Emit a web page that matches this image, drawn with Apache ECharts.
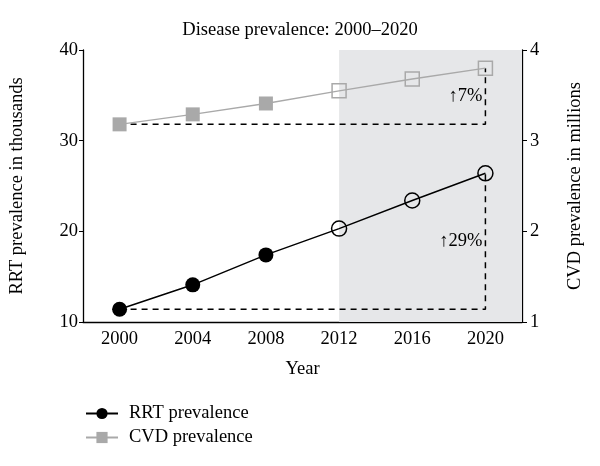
<!DOCTYPE html>
<html>
<head>
<meta charset="utf-8">
<script src="https://cdn.jsdelivr.net/npm/echarts@6/dist/echarts.min.js"></script>
<style>html,body{margin:0;padding:0;background:#fff}#c{width:600px;height:466px}</style>
</head>
<body>
<div id="c"></div>
<script>
const years = [2000, 2004, 2008, 2012, 2016, 2020];
const rrt = [11.4, 14.1, 17.4, 20.3, 23.4, 26.4];
const cvd = [3.18, 3.29, 3.41, 3.55, 3.68, 3.80];
const projectedFrom = 2012;
const xTickLabels = [2000, 2004, 2008, 2012, 2016, 2020];
const rrtLabel = '\u219129%';
const cvdLabel = '\u21917%';

const FONT = 'Liberation Serif';
const FS = 18.5;
const GRAY = '#a9a9a9';
const n = years.length - 1;

function pts(vals, filledColor, strokeColor) {
  return years.map((y, i) => ({
    value: [y, vals[i]],
    itemStyle: y >= projectedFrom
      ? { color: 'rgba(0,0,0,0)', borderColor: strokeColor, borderWidth: 1.5 }
      : { color: filledColor, borderColor: filledColor, borderWidth: 0 }
  }));
}
function guide(vals) {
  return [[years[0], vals[0]], [years[n], vals[0]], [years[n], vals[n]]];
}

const chart = echarts.init(document.getElementById('c'));
chart.setOption({
  animation: false,
  textStyle: { fontFamily: FONT, color: '#000' },
  title: {
    text: 'Disease prevalence: 2000\u20132020',
    left: 'center', top: 16,
    textStyle: { fontFamily: FONT, fontWeight: 'normal', fontSize: FS, color: '#000' }
  },
  grid: { left: 82, right: 78, top: 50, bottom: 144 },
  legend: {
    data: ['RRT prevalence', 'CVD prevalence'],
    orient: 'vertical', left: 80, top: 399, itemGap: 5,
    itemWidth: 32, itemHeight: 14,
    textStyle: { fontFamily: FONT, fontSize: FS, color: '#000', padding: [0, 0, 0, 6] }
  },
  xAxis: {
    type: 'value', min: 1998, max: 2022,
    name: 'Year', nameLocation: 'middle', nameGap: 38,
    nameTextStyle: { fontFamily: FONT, fontSize: FS, color: '#000' },
    axisLine: { lineStyle: { color: '#000', width: 1.3 } },
    axisTick: { show: false },
    splitLine: { show: false },
    axisLabel: { customValues: xTickLabels, formatter: v => String(v), fontFamily: FONT, fontSize: FS, color: '#000', margin: 8 }
  },
  yAxis: [
    {
      type: 'value', min: 10, max: 40, interval: 10, position: 'left',
      name: 'RRT prevalence in thousands', nameLocation: 'middle', nameGap: 56,
      nameTextStyle: { fontFamily: FONT, fontSize: FS, color: '#000' },
      axisLine: { show: true, lineStyle: { color: '#000', width: 1.3 } },
      axisTick: { show: true, length: 4, lineStyle: { color: '#000' } },
      splitLine: { show: false },
      axisLabel: { fontFamily: FONT, fontSize: FS, color: '#000', margin: 5 }
    },
    {
      type: 'value', min: 1, max: 4, interval: 1, position: 'right',
      name: 'CVD prevalence in millions', nameLocation: 'middle', nameGap: 44,
      nameRotate: 90,
      nameTextStyle: { fontFamily: FONT, fontSize: FS, color: '#000' },
      axisLine: { show: true, lineStyle: { color: '#000', width: 1.3 } },
      axisTick: { show: true, length: 5, lineStyle: { color: '#000' } },
      splitLine: { show: false },
      axisLabel: { fontFamily: FONT, fontSize: FS, color: '#000', margin: 8 }
    }
  ],
  series: [
    {
      name: 'shade', type: 'line', data: [], silent: true,
      markArea: {
        silent: true,
        itemStyle: { color: '#e6e7e9' },
        data: [[{ xAxis: projectedFrom }, { xAxis: 2022 }]]
      }
    },
    {
      name: 'rrtGuide', type: 'line', yAxisIndex: 0, data: guide(rrt),
      symbol: 'none', silent: true, z: 1,
      lineStyle: { color: '#000', width: 1.5, type: [6, 5] },
      markPoint: {
        symbol: 'circle', symbolSize: 0,
        label: { show: true, position: 'left', distance: 3, formatter: rrtLabel, fontFamily: FONT, fontSize: FS, color: '#000' },
        data: [{ coord: [years[n], (rrt[0] + rrt[n]) / 2] }]
      }
    },
    {
      name: 'cvdGuide', type: 'line', yAxisIndex: 1, data: guide(cvd),
      symbol: 'none', silent: true, z: 1,
      lineStyle: { color: '#000', width: 1.5, type: [6, 5] },
      markPoint: {
        symbol: 'circle', symbolSize: 0,
        label: { show: true, position: 'left', distance: 3, formatter: cvdLabel, fontFamily: FONT, fontSize: FS, color: '#000' },
        data: [{ coord: [years[n], (cvd[0] + cvd[n]) / 2] }]
      }
    },
    {
      name: 'RRT prevalence', type: 'line', yAxisIndex: 0, z: 3,
      data: pts(rrt, '#000', '#000'),
      symbol: 'circle', symbolSize: 15,
      itemStyle: { color: '#000' },
      lineStyle: { color: '#000', width: 1.5 }
    },
    {
      name: 'CVD prevalence', type: 'line', yAxisIndex: 1, z: 3,
      data: pts(cvd, GRAY, GRAY),
      symbol: 'rect', symbolSize: 14,
      itemStyle: { color: GRAY },
      lineStyle: { color: GRAY, width: 1.3 }
    }
  ]
});
</script>
</body>
</html>
